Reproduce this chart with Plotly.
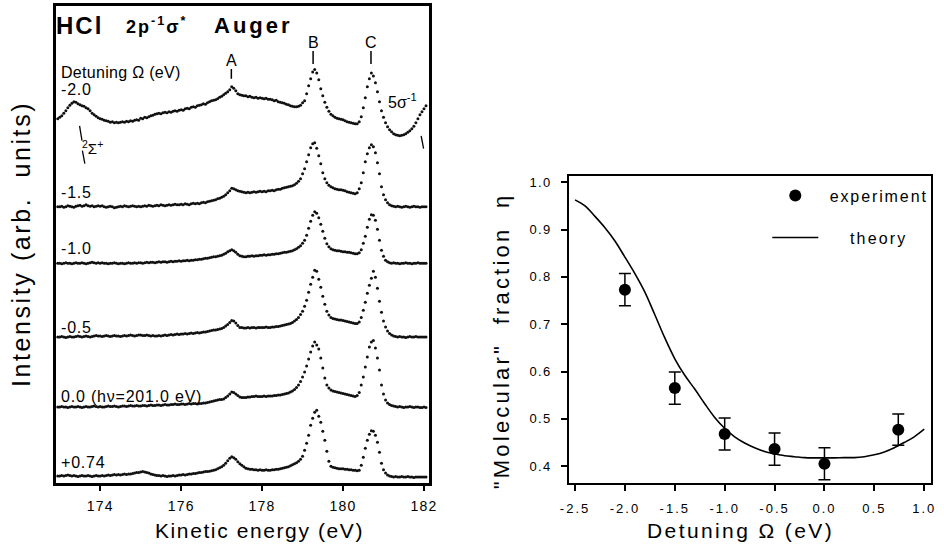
import plotly.graph_objects as go

# ---------------- data : left panel (Auger spectra) ----------------
energy_eV = [
    172.95,
    173.00, 173.05, 173.10, 173.15, 173.20, 173.25, 173.30, 173.35, 173.40, 173.45,
    173.50, 173.55, 173.60, 173.65, 173.70, 173.75, 173.80, 173.85, 173.90, 173.95,
    174.00, 174.05, 174.10, 174.15, 174.20, 174.25, 174.30, 174.35, 174.40, 174.45,
    174.50, 174.55, 174.60, 174.65, 174.70, 174.75, 174.80, 174.85, 174.90, 174.95,
    175.00, 175.05, 175.10, 175.15, 175.20, 175.25, 175.30, 175.35, 175.40, 175.45,
    175.50, 175.55, 175.60, 175.65, 175.70, 175.75, 175.80, 175.85, 175.90, 175.95,
    176.00, 176.05, 176.10, 176.15, 176.20, 176.25, 176.30, 176.35, 176.40, 176.45,
    176.50, 176.55, 176.60, 176.65, 176.70, 176.75, 176.80, 176.85, 176.90, 176.95,
    177.00, 177.05, 177.10, 177.15, 177.20, 177.25, 177.30, 177.35, 177.40, 177.45,
    177.50, 177.55, 177.60, 177.65, 177.70, 177.75, 177.80, 177.85, 177.90, 177.95,
    178.00, 178.05, 178.10, 178.15, 178.20, 178.25, 178.30, 178.35, 178.40, 178.45,
    178.50, 178.55, 178.60, 178.65, 178.70, 178.75, 178.80, 178.85, 178.90, 178.95,
    179.00, 179.05, 179.10, 179.15, 179.20, 179.25, 179.30, 179.35, 179.40, 179.45,
    179.50, 179.55, 179.60, 179.65, 179.70, 179.75, 179.80, 179.85, 179.90, 179.95,
    180.00, 180.05, 180.10, 180.15, 180.20, 180.25, 180.30, 180.35, 180.40, 180.45,
    180.50, 180.55, 180.60, 180.65, 180.70, 180.75, 180.80, 180.85, 180.90, 180.95,
    181.00, 181.05, 181.10, 181.15, 181.20, 181.25, 181.30, 181.35, 181.40, 181.45,
    181.50, 181.55, 181.60, 181.65, 181.70, 181.75, 181.80, 181.85, 181.90, 181.95,
    182.00, 182.05,
]

intensity_m2_0 = [
    0,
    1.5, 3, 5.5, 8, 11, 13.5, 15.5, 17, 16.5, 15, 14, 13, 12.5, 11, 10, 8, 5.5, 4, 2.5, 1,
    0, -0.5, -1.5, -2, -2.5, -3.5, -3, -4, -3.5, -4, -3.5, -3, -3.5, -2.5, -3, -2, -2.5, -1.5, -1, -1.5,
    0.5, 0, 1.5, 1, 2, 3, 3.5, 4.5, 5, 5.5, 5, 6, 6.5, 6, 7, 6.5, 7.5, 8, 7.5, 8.5,
    9, 8.5, 10, 10.5, 10, 11.5, 12, 11.5, 13, 13.5, 14, 15, 14.5, 16, 17, 18, 18.5, 19, 20, 21.5,
    22.5, 24, 25.5, 27, 29, 32, 30.5, 28, 25, 24, 23.5, 23, 23, 22, 22.5, 21.5, 21, 21.5, 20.5, 21,
    20.5, 20, 20.5, 19.5, 19.5, 19, 18, 18.5, 17, 16.5, 16, 15.5, 14.5, 14, 13, 12.5, 12, 12, 12.5, 13.5,
    16, 18, 25, 33, 40, 47, 49.5, 46, 39, 30, 23, 16.5, 11.5, 7.5, 4.5, 3, 1.5, 0.5, 0, -0.5,
    -1, -2, -3, -3.5, -4, -4.5, -5, -5, -3, 2, 11, 21, 32, 40, 46, 43, 36, 27, 17, 8,
    1.5, -4, -8, -11, -13, -15, -16, -16.5, -17, -16.5, -16, -15, -13.5, -12, -10, -7.5, -4, 0, 4, 7,
    10, 13,
]

intensity_m1_5 = [
    0,
    0, 0.5, -0.5, 0, 1, 0.5, 0, -0.5, 0.5, 1, 1.5, 0.5, 1, 2, 1, 0.5, 1, 0, 0.5, 1,
    0.5, 1, 0, -0.5, 0, 0.5, 0, -1, -0.5, 0, 0.5, 0, 1, 0.5, 0, 0.5, 1, 0.5, 0, 0.5,
    0, 0.5, 1, 0.5, 1.5, 1, 0.5, 1, 1.5, 1, 2, 1.5, 1, 1.5, 2, 1.5, 2, 2.5, 2, 2,
    2.5, 2, 3, 2.5, 2, 3, 3.5, 3, 3.5, 3, 4, 4.5, 4, 5, 5.5, 6, 6.5, 7, 8, 8.5,
    9.5, 10.5, 12, 14, 16, 18.5, 18, 17, 16, 15.5, 15, 14.5, 14, 14.5, 14, 14.5, 15, 14.5, 15, 15.5,
    15, 15.5, 15, 16, 16, 16.5, 16, 17, 17.5, 17.5, 18.5, 19, 19.5, 20, 20.5, 21, 22, 23.5, 25.5, 28,
    33, 38, 45, 52, 59, 63, 64, 58.5, 51, 43, 34, 28, 24, 21.5, 20, 19, 18, 17.5, 17, 17,
    16.5, 16, 15, 14.5, 14, 13.5, 13, 14, 18, 24, 34, 45, 53, 59, 62, 60, 54, 44, 33, 20,
    12, 7, 4, 2, 1, 0.5, 0, 0.5, 0, -0.5, 0, 0.5, 0, -0.5, 0, 0.5, 0, 0, -0.5, 0,
    0, 0,
]

intensity_m1_0 = [
    0,
    0, -0.5, 0, 0.5, 0, 0, -0.5, 0, 0.5, 0, 0, 0.5, 0, -0.5, 0, 0.5, 1, 0.5, 0, 0.5,
    0, 0.5, 0, 0, -0.5, 0, 0, 0.5, 0, -0.5, 0, 0, -0.5, 0, 0.5, 0, 0, 0.5, 0, 0.5,
    0.5, 0, 0.5, 1, 0.5, 1, 1, 0.5, 1, 1.5, 1, 1.5, 1.5, 1, 1.5, 2, 1.5, 2, 2, 2.5,
    2, 2.5, 2.5, 3, 2.5, 3, 3, 3.5, 3.5, 4, 4, 4.5, 5, 5, 5.5, 6, 6.5, 6.5, 7, 7.5,
    8, 9, 10, 11.5, 12.5, 13.5, 12.5, 11, 9, 7.5, 7, 6.5, 6.5, 7, 7, 7.5, 7, 7.5, 7.5, 8,
    8, 8.5, 8, 8.5, 8.5, 9, 9, 9.5, 9.5, 10, 10.5, 11, 11, 11.5, 12, 12.5, 13.5, 14.5, 16, 17.5,
    20, 23, 28, 35, 42, 48, 51.5, 50, 45.5, 39, 32, 25, 19.5, 16.5, 14.5, 13.5, 13, 12.5, 12.5, 12,
    11.5, 11.5, 11, 11, 10.5, 10, 9.5, 9.5, 10.5, 13.5, 20, 27, 36, 44, 48.5, 48, 43, 34, 23, 13,
    7, 3, 1.5, 0.5, 0, 0.5, 0, 0, -0.5, 0, 0, 0.5, 0, 0, -0.5, 0, 0, 0.5, 0, 0,
    0, 0,
]

intensity_m0_5 = [
    0,
    0, 0.5, 0, -0.5, 0, 0.5, 0, 0, 0.5, 1, 0.5, 0, 0.5, 1, 0.5, 0, 0.5, 1, 1.5, 1,
    1, 0.5, 1, 1.5, 1, 0.5, 1, 1.5, 1, 1, 0.5, 1, 1.5, 1, 1.5, 2, 1.5, 1, 1.5, 2,
    2, 1.5, 1.5, 2, 1.5, 1, 1.5, 1, 1, 1.5, 1, 1.5, 2, 1.5, 2, 2.5, 2, 2.5, 3, 2.5,
    3, 3, 3.5, 3, 3.5, 4, 3.5, 4, 4.5, 4, 4.5, 5, 5, 5.5, 6, 6.5, 7, 7, 7.5, 8,
    8.5, 9.5, 11, 12.5, 14.5, 16.5, 16, 14, 11.5, 9.5, 9.5, 9, 9, 9.5, 9, 9.5, 9.5, 9, 9.5, 9.5,
    9.5, 9.5, 10, 9.5, 9.5, 10, 10, 10.5, 10.5, 11, 11.5, 12, 12.5, 13, 13.5, 14.5, 16, 17.5, 19.5, 22.5,
    26, 31, 37, 45, 53, 60, 67, 66, 58, 50, 41, 33, 26, 22, 19.5, 18.5, 18, 17.5, 17, 17,
    16.5, 16, 15.5, 15, 14.5, 14, 13.5, 13.5, 15, 19.5, 27, 35, 44, 52, 59, 66, 60, 49, 36, 25,
    16, 10, 6, 3.5, 2, 1, 0.5, 0, 0.5, 0, 0, -0.5, 0, 0.5, 0, 0, 0.5, 0, 0, 0,
    0, 0,
]

intensity_0_0 = [
    0,
    0, 0.5, 0, 0, -0.5, 0, 0.5, 0, 0, 0.5, 0, -0.5, 0, 0.5, 0, 0, 0.5, 1, 0.5, 0,
    0.5, 0, 0, 0.5, 1, 0.5, 0.5, 1, 0.5, 0, 0.5, 1, 1, 0.5, 1, 1.5, 1, 1, 1.5, 1,
    1, 1.5, 1.5, 1, 1.5, 2, 1.5, 1.5, 2, 2, 1.5, 2, 2.5, 2, 2, 2.5, 2.5, 3, 2.5, 2.5,
    3, 3, 2.5, 3, 3.5, 3, 3.5, 3.5, 3, 3.5, 3.5, 4, 4, 4.5, 5, 5.5, 6, 6.5, 7, 7.5,
    7.5, 8, 9.5, 11, 13, 15, 14.5, 13, 11.5, 10, 9.5, 9.5, 9.5, 10, 10, 10.5, 10.5, 11, 10.5, 10.5,
    10.5, 11, 10.5, 11, 11, 11, 11.5, 11.5, 12, 12, 12.5, 13, 13.5, 14, 15, 16, 17.5, 19.5, 22, 25.5,
    30, 35, 41, 48, 55, 61, 65, 62, 58, 49, 39, 29, 22, 19, 17, 16, 15.5, 15, 14.5, 14,
    13.5, 13, 12.5, 12, 11.5, 11, 10.5, 11.5, 14.5, 22, 30, 40, 50, 60, 65, 66.5, 59, 49, 37, 22,
    13, 7, 4, 2.5, 1.5, 1, 0.5, 0, 0.5, 0, -0.5, 0, 0, 0.5, 0, -0.5, 0, 0, -0.5, -0.5,
    0, -0.5,
]

intensity_p0_74 = [
    0,
    0, 0.5, 0, 0.5, 1, 0.5, 0, 0.5, 0, -0.5, 0, 0.5, 0, 0, 0.5, 0, -0.5, 0, 0.5, 0,
    0, 0.5, 0, 0.5, 1, 0.5, 1, 1.5, 1, 1.5, 1, 1.5, 2, 1.5, 2, 2, 2.5, 3, 3.5, 3.5,
    4, 4.5, 4, 3.5, 3, 2, 1.5, 1, 0.5, 0.5, 0, 0.5, 0, -0.5, 0, 0, 0.5, 0, 0.5, 1,
    1, 1.5, 1, 1.5, 2, 2, 2.5, 2.5, 3, 3.5, 3.5, 4, 4.5, 4.5, 5, 5.5, 6, 6.5, 7.5, 8.5,
    9.5, 11, 13, 15.5, 18, 19.5, 18.5, 17, 14.5, 12.5, 11, 9.5, 8, 7.5, 7, 7, 6.5, 6.5, 6, 6.5,
    6, 6, 6.5, 6, 6, 6.5, 6.5, 7, 7, 7.5, 8, 8.5, 9, 9.5, 10.5, 11.5, 12.5, 13.5, 15, 17,
    20, 26, 33, 41, 51, 58, 64, 66, 60, 54, 45, 36, 25, 15, 10, 9, 8.5, 8, 7.5, 7.5,
    7.5, 7, 7, 6.5, 6.5, 6, 6, 5.5, 6, 11, 19, 28, 36, 42, 45.5, 45, 41, 34, 24, 13,
    6.5, 3, 1, 0, -0.5, -1, -0.5, -1, -1, -0.5, -1, -1, -0.5, -1, -1, -1.5, -1, -1, -1, -1,
    -1, -1,
]

spectra = [intensity_m2_0, intensity_m1_5, intensity_m1_0,
           intensity_m0_5, intensity_0_0, intensity_p0_74]
spectrum_offsets = [365, 277, 220.3, 146.3, 76.3, 7]
detuning_labels = ["-2.0", "-1.5", "-1.0", "-0.5", "0.0 (h\u03bd=201.0 eV)", "+0.74"]
energy_ticks = [174, 176, 178, 180, 182]
energy_tick_text = ["174", "176", "178", "180", "182"]

# ---------------- data : right panel (molecular fraction) ----------------
exp_detuning = [-2.0, -1.5, -1.0, -0.5, 0.0, 0.74]
exp_eta = [0.773, 0.565, 0.468, 0.436, 0.405, 0.477]
exp_err = [0.034, 0.034, 0.034, 0.034, 0.034, 0.033]

theory_detuning = [-2.5, -2.4, -2.3, -2.2, -2.1, -2.0, -1.9, -1.8, -1.7, -1.6,
                   -1.5, -1.4, -1.3, -1.2, -1.1, -1.0, -0.9, -0.8, -0.7, -0.6,
                   -0.5, -0.4, -0.3, -0.2, -0.1, 0.0, 0.1, 0.2, 0.3, 0.4,
                   0.5, 0.6, 0.7, 0.8, 0.9, 1.0]
theory_eta = [0.963, 0.950, 0.928, 0.904, 0.876, 0.842, 0.807, 0.768, 0.720, 0.671,
              0.627, 0.592, 0.563, 0.532, 0.503, 0.480, 0.462, 0.449, 0.439, 0.431,
              0.426, 0.422, 0.420, 0.418, 0.4175, 0.4175, 0.4175, 0.418, 0.418, 0.420,
              0.424, 0.430, 0.439, 0.450, 0.462, 0.478]
detuning_ticks = [-2.5, -2.0, -1.5, -1.0, -0.5, 0.0, 0.5, 1.0]
detuning_tick_text = ["-2.5", "-2.0", "-1.5", "-1.0", "-0.5", "0.0", "0.5", "1.0"]
eta_ticks = [0.4, 0.5, 0.6, 0.7, 0.8, 0.9, 1.0]
eta_tick_text = ["0.4", "0.5", "0.6", "0.7", "0.8", "0.9", "1.0"]

FONT = "Liberation Sans, Arial, Helvetica, sans-serif"
NB = "\u00a0"


def sp(text, px):
    """letter-spaced text"""
    return '<span style="letter-spacing:%.1fpx">%s</span>' % (px, text)


fig = go.Figure()

for vals, off in zip(spectra, spectrum_offsets):
    fig.add_trace(go.Scatter(
        x=energy_eV, y=[off + v for v in vals], mode="markers",
        marker=dict(size=3, color="#111111", line=dict(width=0)),
        xaxis="x", yaxis="y", showlegend=False, hoverinfo="skip"))

fig.add_trace(go.Scatter(
    x=exp_detuning, y=exp_eta, mode="markers", name=sp(NB + "experiment", 1.9),
    marker=dict(size=12, color="black"),
    error_y=dict(type="data", array=exp_err, color="black", thickness=1.5, width=6),
    xaxis="x2", yaxis="y2", legend="legend"))
fig.add_trace(go.Scatter(
    x=theory_detuning, y=theory_eta, mode="lines", name=sp(NB * 4 + "theory", 2.2),
    line=dict(color="black", width=1.6, shape="spline"),
    xaxis="x2", yaxis="y2", legend="legend2"))

# ---------------- annotations ----------------
ann = []


def txt(x, y, text, size, xref="x", yref="y", xanchor="left", bold=False, angle=0, ls=0.0):
    t = sp(text, ls) if ls else text
    if bold:
        t = "<b>%s</b>" % t
    ann.append(dict(x=x, y=y, xref=xref, yref=yref, text=t,
                    showarrow=False, xanchor=xanchor, yanchor="middle", textangle=angle,
                    font=dict(family=FONT, size=size, color="black")))


# panel header (paper x, data y)
txt(0.0487, 458, "HCl", 24, xref="paper", bold=True, ls=2)
txt(174.58, 458, "2p<sup>-1</sup>\u03c3<sup>*</sup>", 18, bold=True, ls=2)
txt(176.75, 458, "Auger", 22, bold=True, ls=3)
txt(0.054, 411, "Detuning \u03a9 (eV)", 16, xref="paper", ls=0.3)
label_y = [394, 291.3, 235, 156.3, 86.3, 20.3]
for lab, ly in zip(detuning_labels, label_y):
    txt(0.054, ly, lab, 16, xref="paper", ls=0.8)
txt(177.24, 423, "A", 16, xanchor="center")
txt(179.26, 441, "B", 16, xanchor="center")
txt(180.69, 441, "C", 16, xanchor="center")
txt(181.05, 383, "5\u03c3<sup>-1</sup>", 16)
txt(173.5, 336, "<sup>2</sup>\u03a3<sup>+</sup>", 15)

# axis titles
txt(0.013, 0.554, "Intensity (arb.  units)", 25, xref="paper", yref="paper",
    xanchor="center", angle=-90, ls=2.6)
txt(0.270, 0.0293, "Kinetic energy (eV)", 21, xref="paper", yref="paper", xanchor="center", ls=1.6)
txt(0.532, 0.377, "\"Molecular\"" + NB * 2 + "fraction" + NB * 2 + "\u03b7", 22, xref="paper",
    yref="paper", xanchor="center", angle=-90, ls=3.2)
txt(0.790, 0.0293, "Detuning \u03a9 (eV)", 21, xref="paper", yref="paper", xanchor="center", ls=2.4)

shapes = []


def seg(x0, y0, x1, y1, w=1.5):
    shapes.append(dict(type="line", xref="x", yref="y", x0=x0, y0=y0, x1=x1, y1=y1,
                       line=dict(color="black", width=w)))


seg(177.24, 405, 177.24, 415)
seg(179.26, 420, 179.26, 433)
seg(180.69, 420, 180.69, 433)
seg(173.49, 358, 173.55, 343, 1.3)
seg(173.56, 333, 173.62, 320, 1.3)
seg(181.93, 348, 181.99, 335, 1.3)

axis_common = dict(showgrid=False, zeroline=False, showline=True, mirror=True,
                   linecolor="black", ticks="outside", tickcolor="black",
                   tickfont=dict(family=FONT, size=13, color="black"))

fig.update_layout(
    width=944, height=546,
    margin=dict(l=0, r=0, t=0, b=0),
    paper_bgcolor="white", plot_bgcolor="white",
    font=dict(family=FONT, color="black"),
    xaxis=dict(axis_common, domain=[0.0503, 0.4534], range=[172.897, 182.12], anchor="y",
               tickvals=energy_ticks, ticktext=[sp(t, 1.2) for t in energy_tick_text],
               ticklen=5, tickwidth=1.5, linewidth=2.5, ticklabelstandoff=3,
               tickfont=dict(family=FONT, size=14, color="black")),
    yaxis=dict(axis_common, domain=[0.1154, 0.9908], range=[0, 478], anchor="x",
               showticklabels=False, ticks="", linewidth=2.5),
    xaxis2=dict(axis_common, domain=[0.6049, 0.9958], range=[-2.559, 1.069], anchor="y2",
                tickvals=detuning_ticks, ticktext=[sp(t, 2) for t in detuning_tick_text],
                ticklen=6, tickwidth=1.5, linewidth=2, ticklabelstandoff=6),
    yaxis2=dict(axis_common, domain=[0.1154, 0.6795], range=[0.3641, 1.0141], anchor="x2",
                tickvals=eta_ticks, ticktext=[sp(t, 1.3) for t in eta_tick_text],
                ticklen=6, tickwidth=1.5, linewidth=2, ticklabelstandoff=7),
    legend=dict(x=0.8189, y=0.6429, xanchor="left", yanchor="middle", itemwidth=46,
                bgcolor="rgba(0,0,0,0)", font=dict(family=FONT, size=16, color="black")),
    legend2=dict(x=0.8189, y=0.566, xanchor="left", yanchor="middle", itemwidth=46,
                 bgcolor="rgba(0,0,0,0)", font=dict(family=FONT, size=16, color="black")),
    annotations=ann,
    shapes=shapes,
)

fig.write_html("out.html", config={"displayModeBar": False},
               post_script="document.body.style.margin='0px';")
